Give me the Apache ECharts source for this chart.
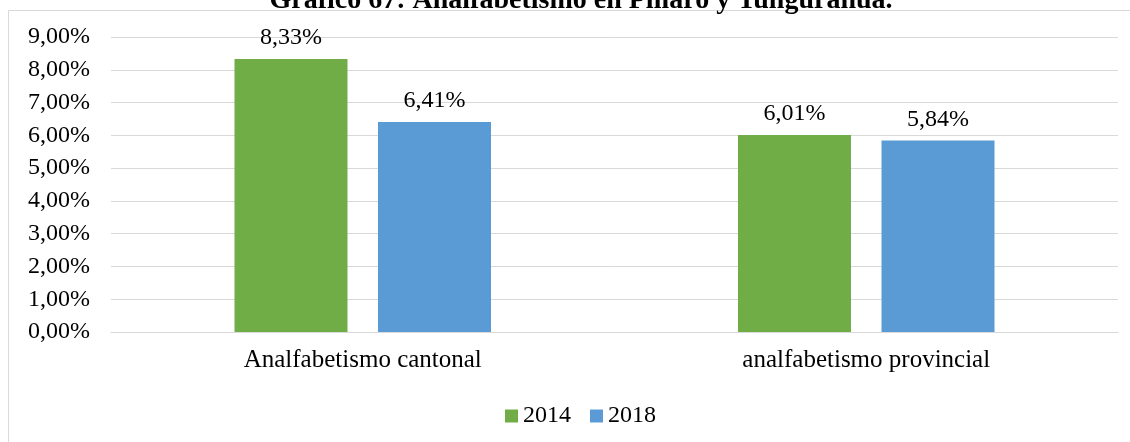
<!DOCTYPE html>
<html>
<head>
<meta charset="utf-8">
<script src="https://cdn.jsdelivr.net/npm/echarts@6/dist/echarts.min.js"></script>
<style>
  html, body { margin: 0; padding: 0; background: #fff; }
  #chart { width: 1130px; height: 442px; }
</style>
</head>
<body>
<div id="chart"></div>
<script>
const categories = ['Analfabetismo cantonal', 'analfabetismo provincial']
const years = ['2014', '2018']
const values2014 = [8.33, 6.01]
const values2018 = [6.41, 5.84]
const yTicks = [0, 1, 2, 3, 4, 5, 6, 7, 8, 9]

const serif = '"Liberation Serif", "DejaVu Serif", serif'
const pct = v => v.toFixed(2).replace('.', ',') + '%'

const chart = echarts.init(document.getElementById('chart'))
chart.setOption({
  animation: false,
  backgroundColor: '#fff',
  title: {
    text: 'Gráfico 67: Analfabetismo en Píllaro y Tungurahua.',
    left: 576, top: -18, textAlign: 'center',
    textStyle: { fontFamily: serif, fontSize: 28, fontWeight: 'bold', color: '#000' },
  },
  graphic: [{
    type: 'rect', z: -1, silent: true,
    shape: { x: 8.5, y: 10.5, width: 1200, height: 500 },
    style: { fill: 'none', stroke: '#d9d9d9', lineWidth: 1 },
  }],
  legend: {
    data: years, top: 399, left: 500,
    itemWidth: 13, itemHeight: 13, itemGap: 19,
    icon: 'rect',
    textStyle: { fontFamily: serif, fontSize: 24, color: '#000' },
  },
  grid: { left: 111, right: 12, top: 37, bottom: 110 },
  xAxis: {
    type: 'category', data: categories,
    axisTick: { show: false },
    axisLine: { lineStyle: { color: '#d9d9d9' } },
    axisLabel: { fontFamily: serif, fontSize: 25, color: '#000', margin: 16 },
  },
  yAxis: {
    type: 'value', min: yTicks[0], max: yTicks[yTicks.length - 1], interval: 1,
    axisLine: { show: false }, axisTick: { show: false },
    splitLine: { lineStyle: { color: '#d9d9d9', width: 1 } },
    axisLabel: { fontFamily: serif, fontSize: 24, color: '#000', margin: 21, formatter: pct },
  },
  series: [
    { name: '2014', type: 'bar', data: values2014, barWidth: 113, barGap: '27%',
      itemStyle: { color: '#70ad47' },
      label: { show: true, position: 'top', distance: 9, fontFamily: serif, fontSize: 24,
        color: '#000', formatter: p => pct(p.value) } },
    { name: '2018', type: 'bar', data: values2018, barWidth: 113,
      itemStyle: { color: '#5b9bd5' },
      label: { show: true, position: 'top', distance: 9, fontFamily: serif, fontSize: 24,
        color: '#000', formatter: p => pct(p.value) } },
  ],
})
</script>
</body>
</html>
